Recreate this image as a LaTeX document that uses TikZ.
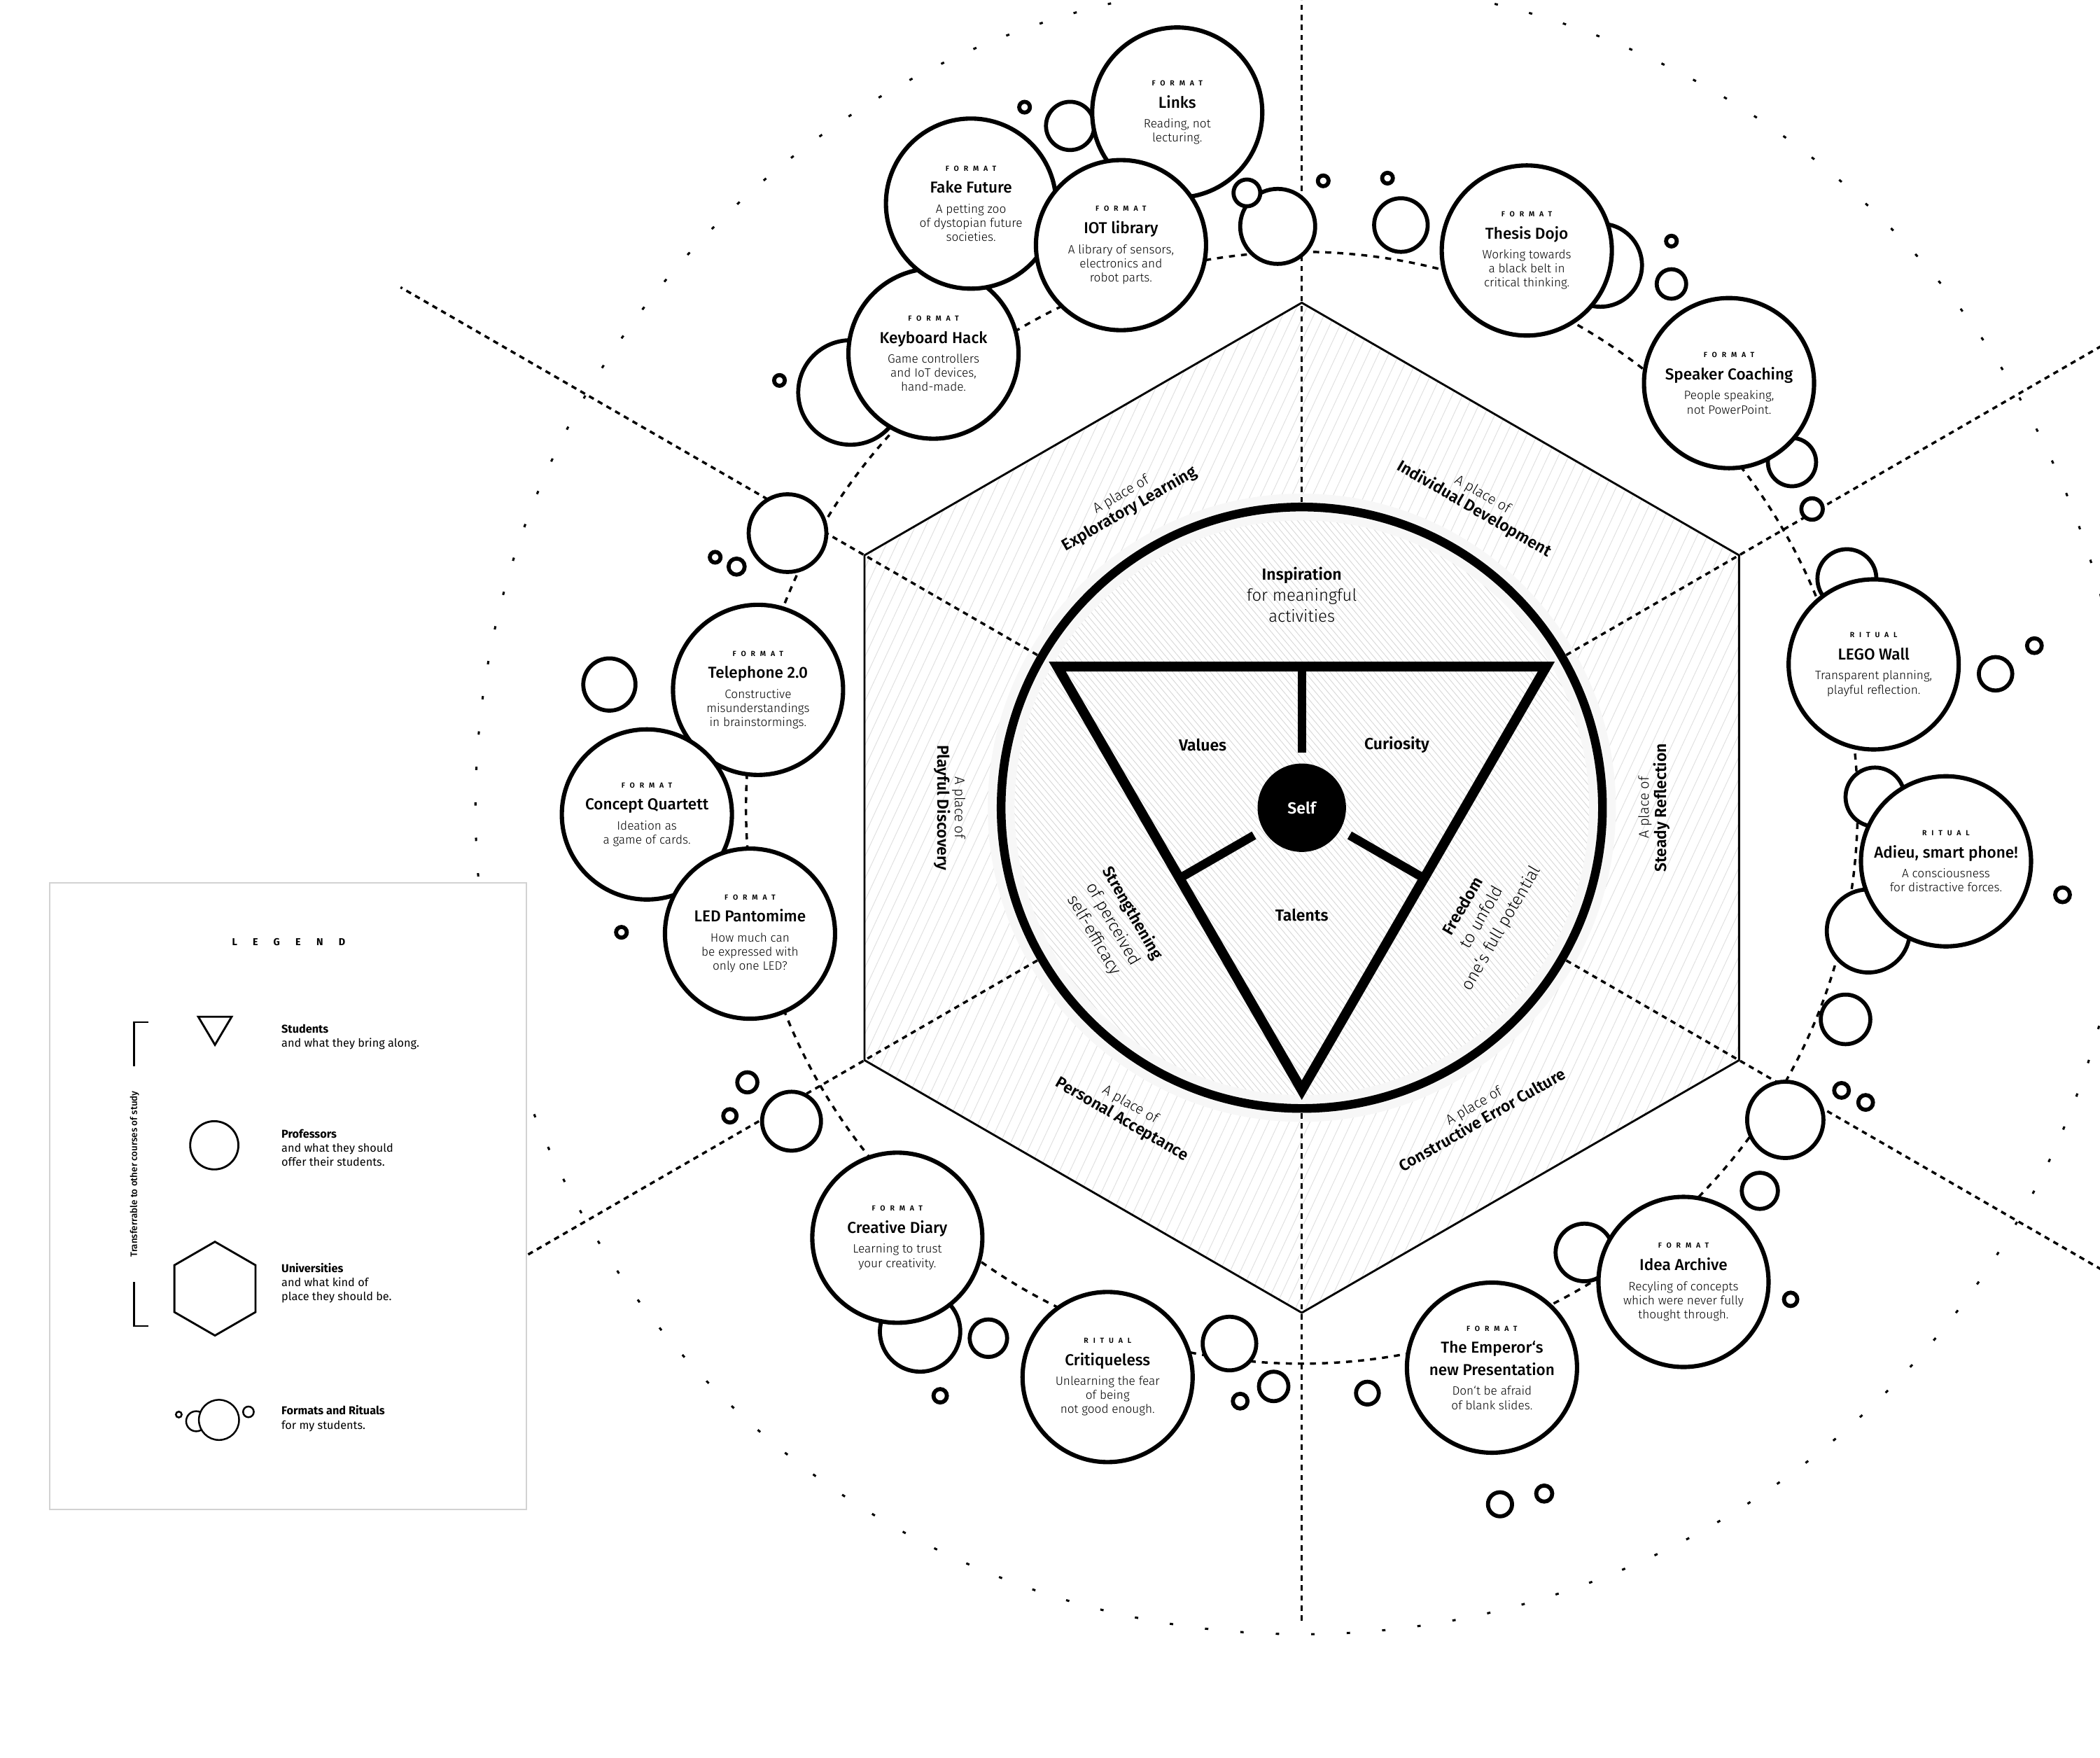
\documentclass[tikz,border=0pt]{standalone}
\usepackage{fontspec}
\setmainfont{Fira Sans}
\newfontfamily\lightfont{Fira Sans Light}
\newfontfamily\mediumfont{Fira Sans Medium}
\newfontfamily\semifont{Fira Sans SemiBold}
\usetikzlibrary{calc,patterns.meta}

\newcommand\kindfont{\fontsize{5.5}{6.5}\selectfont\bfseries\addfontfeatures{LetterSpace=65}}
\newcommand\titlefont{\fontsize{11.8}{14}\selectfont\mediumfont}
\newcommand\descfont{\fontsize{9}{10.5}\selectfont\lightfont}
\newcommand\corebold{\fontsize{12}{16.5}\selectfont\semifont}
\newcommand\corelight{\fontsize{12.5}{16.5}\selectfont\lightfont}
\newcommand\placefont{\fontsize{10.5}{12}\selectfont\lightfont}
\newcommand\placename{\fontsize{12}{14}\selectfont\semifont}
\newcommand\legendfont{\fontsize{8.5}{10.5}\selectfont}

\begin{document}
\begin{tikzpicture}[x=1pt, y=-1pt]
  \tikzstyle{bubble}=[circle, draw, fill=white, line width=3.2pt, inner sep=0pt, minimum size=127pt, align=center, font=\descfont]
  \tikzstyle{orb}=[draw, fill=white, line width=3pt]
  \tikzstyle{radial}=[line width=1.8pt, dash pattern=on 4pt off 3.5pt]
  \tikzstyle{place}=[align=center, font=\placefont]
  \tikzstyle{core}=[align=center, font=\corelight]
  \tikzstyle{legendtext}=[anchor=west, align=left, inner sep=0pt, font=\legendfont]
  \useasboundingbox (0,0) rectangle (1568,1312);
  \coordinate (ctr) at (972,603);

  % orbits
  \draw[line width=1.6pt, dash pattern=on 2.5pt off 24pt] (ctr) circle[radius=617pt];
  \draw[line width=1.8pt, dash pattern=on 4.5pt off 4.5pt] (ctr) circle[radius=415pt];

  % university hexagon
  \foreach \a [count=\i] in {270,330,30,90,150,210}
    \coordinate (h\i) at ($(ctr)+(\a:377)$);
  \fill[pattern={Lines[angle=65,distance=7pt,line width=.5pt]}, pattern color=gray!25]
    (h1) -- (h2) -- (h3) -- (h4) -- (h5) -- (h6) -- cycle;
  \draw[line width=1.5pt] (h1) -- (h2) -- (h3) -- (h4) -- (h5) -- (h6) -- cycle;

  % professor circle
  \fill[white] (ctr) circle[radius=227pt];
  \fill[pattern={Lines[angle=-50,distance=3.6pt,line width=.4pt]}, pattern color=gray!35] (ctr) circle[radius=227pt];
  \draw[gray!6, line width=20pt] (ctr) circle[radius=224.5pt];
  \foreach \a/\e in {270/603,330/700,30/700,90/609,150/700,210/777}
    \draw[radial] ($(ctr)+(\a:228)$) -- ($(ctr)+(\a:\e)$);
  \draw[line width=6.5pt] (ctr) circle[radius=224.5pt];

  % student triangle
  \coordinate (ta) at ($(ctr)+(210:210.8)$);
  \coordinate (tb) at ($(ctr)+(330:210.8)$);
  \coordinate (tc) at ($(ctr)+(90:210.8)$);
  \draw[line width=7.3pt] (ta) -- (tb) -- (tc) -- cycle;
  \node[circle, fill=black, inner sep=0pt, minimum size=66pt, text=white, font=\corebold] (self) at (ctr) {Self};
  \draw[line width=6.5pt, shorten <=8pt] (self) -- ($(ta)!.5!(tb)$);
  \draw[line width=6.5pt, shorten <=8pt] (self) -- ($(tb)!.5!(tc)$);
  \draw[line width=6.5pt, shorten <=8pt] (self) -- ($(tc)!.5!(ta)$);

  \node[font=\corebold] (values) at (898,556) {Values};
  \node[font=\corebold] (curiosity) at (1043,556) {Curiosity};
  \node[font=\corebold] (talents) at (972,683) {Talents};
  \node[core] (inspiration) at (972,444) {{\corebold Inspiration}\\[-1pt] for meaningful\\[-1pt] activities};
  \node[core, rotate=-60] (strength) at (831,690) {{\corebold Strengthening}\\ of perceived\\ self-efficacy};
  \node[core, rotate=60] (freedom) at (1107,685) {{\corebold Freedom}\\ to unfold\\ one‘s full potential};

  % places
  \node[place, rotate=30] (explore) at ($(ctr)+(240:263)$) {A place of\\[1pt] {\placename Exploratory Learning}};
  \node[place, rotate=-30] (individual) at ($(ctr)+(300:263)$) {A place of\\[1pt] {\placename Individual Development}};
  \node[place, rotate=90] (steady) at ($(ctr)+(0:263)$) {A place of\\[1pt] {\placename Steady Reflection}};
  \node[place, rotate=30] (errorculture) at ($(ctr)+(60:263)$) {A place of\\[1pt] {\placename Constructive Error Culture}};
  \node[place, rotate=-30] (acceptance) at ($(ctr)+(120:263)$) {A place of\\[1pt] {\placename Personal Acceptance}};
  \node[place, rotate=-90] (playful) at ($(ctr)+(180:263)$) {A place of\\[1pt] {\placename Playful Discovery}};

  % circles behind the formats
  \foreach \x/\y/\r in {799/94/18, 635/293/39, 1195/198/31, 1338/345/18, 1379/432/22, 1400/595/22, 1395/695/31, 1183/935/21.5, 687/994/30}
    \draw[orb] (\x,\y) circle[radius=\r pt];

  % formats and rituals
  \node[bubble] (links) at (879,84) {{\kindfont FORMAT}\\[6pt] {\titlefont Links}\\[4.5pt] Reading, not\\ lecturing.};
  \node[bubble] (keyboard) at (697,264) {{\kindfont FORMAT}\\[6pt] {\titlefont Keyboard Hack}\\[4.5pt] Game controllers\\ and IoT devices,\\ hand-made.};
  \node[bubble] (fakefuture) at (725,152) {{\kindfont FORMAT}\\[6pt] {\titlefont Fake Future}\\[4.5pt] A petting zoo\\ of dystopian future\\ societies.};
  \node[bubble] (iot) at (837,183) {{\kindfont FORMAT}\\[6pt] {\titlefont IOT library}\\[4.5pt] A library of sensors,\\ electronics and\\ robot parts.};
  \node[bubble] (thesis) at (1140,187) {{\kindfont FORMAT}\\[6pt] {\titlefont Thesis Dojo}\\[4.5pt] Working towards\\ a black belt in\\ critical thinking.};
  \node[bubble] (speaker) at (1291,286) {{\kindfont FORMAT}\\[6pt] {\titlefont Speaker Coaching}\\[4.5pt] People speaking,\\ not PowerPoint.};
  \node[bubble] (telephone) at (566,515) {{\kindfont FORMAT}\\[6pt] {\titlefont Telephone 2.0}\\[4.5pt] Constructive\\ misunderstandings\\ in brainstormings.};
  \node[bubble] (quartett) at (483,608) {{\kindfont FORMAT}\\[6pt] {\titlefont Concept Quartett}\\[4.5pt] Ideation as\\ a game of cards.};
  \node[bubble] (pantomime) at (560,697) {{\kindfont FORMAT}\\[6pt] {\titlefont LED Pantomime}\\[4.5pt] How much can\\ be expressed with\\ only one LED?};
  \node[bubble] (legowall) at (1399,496) {{\kindfont RITUAL}\\[6pt] {\titlefont LEGO Wall}\\[4.5pt] Transparent planning,\\ playful reflection.};
  \node[bubble] (adieu) at (1453,643) {{\kindfont RITUAL}\\[6pt] {\titlefont Adieu, smart phone!}\\[4.5pt] A consciousness\\ for distractive forces.};
  \node[bubble] (archive) at (1257,957) {{\kindfont FORMAT}\\[6pt] {\titlefont Idea Archive}\\[4.5pt] Recyling of concepts\\ which were never fully\\ thought through.};
  \node[bubble] (emperor) at (1114,1021) {{\kindfont FORMAT}\\[6pt] {\titlefont The Emperor‘s}\\[3.5pt] {\titlefont new Presentation}\\[4.5pt] Don‘t be afraid\\ of blank slides.};
  \node[bubble] (critiqueless) at (827,1028) {{\kindfont RITUAL}\\[6pt] {\titlefont Critiqueless}\\[4.5pt] Unlearning the fear\\ of being\\ not good enough.};
  \node[bubble] (diary) at (670,924) {{\kindfont FORMAT}\\[6pt] {\titlefont Creative Diary}\\[4.5pt] Learning to trust\\ your creativity.};

  % loose bubbles
  \foreach \x/\y/\r in {765/80/4, 954/169/28, 931/144/10, 988/135/4, 582/284/4,
      1046/168/20, 1036/133/4, 1248/180/4, 1248/212/11, 1353/380/8,
      588/398/29, 534/416/4, 550/423/6, 455/511/19.5, 464/696/4,
      1490/503/12.5, 1519/482/5.5, 1540/668/5.5, 1378/761/18.5,
      1333/836/28.5, 1375/814/5.5, 1393/823/5.5, 1314/889/13.5, 1337/970/5,
      1021/1040/8.5, 1120/1123/9, 1153/1115/6,
      558/808/7.5, 545/833/5, 591/837/22, 738/999/14, 702/1042/5,
      918/1003/20, 951/1035/11, 926/1046/5.5}
    \draw[orb] (\x,\y) circle[radius=\r pt];

  % legend
  \draw[gray!35, line width=1.2pt, fill=white] (37,659) rectangle (393,1127);
  \node[font=\fontsize{7.5}{9}\selectfont\bfseries\addfontfeatures{LetterSpace=155}] (legend) at (215.5,703) {LEGEND};
  \draw[line width=1.5pt] (148,759) -- (173,759) -- (160.5,780) -- cycle;
  \draw[line width=1.5pt] (160,855) circle[radius=18pt];
  \draw[line width=1.5pt] (160.5,927) -- (190.8,944.5) -- (190.8,979.5) -- (160.5,997) -- (130.2,979.5) -- (130.2,944.5) -- cycle;
  \draw[line width=1.3pt, fill=white] (146.5,1061) circle[radius=7.5pt];
  \draw[line width=1.3pt, fill=white] (163.5,1060) circle[radius=15pt];
  \draw[line width=1.3pt] (133.5,1056) circle[radius=2.2pt];
  \draw[line width=1.3pt] (185.5,1054) circle[radius=4pt];
  \draw[line width=1.3pt] (111,763) -- (100,763) -- (100,796);
  \draw[line width=1.3pt] (100,957) -- (100,990) -- (111,990);
  \node[rotate=90, font=\fontsize{7}{8}\selectfont\mediumfont] (transfer) at (100.5,876.5) {Transferrable to other courses of study};
  \node[legendtext] (students) at (210,774) {{\bfseries Students}\\ and what they bring along.};
  \node[legendtext] (professors) at (210,857) {{\bfseries Professors}\\ and what they should\\ offer their students.};
  \node[legendtext] (universities) at (210,958) {{\bfseries Universities}\\ and what kind of\\ place they should be.};
  \node[legendtext] (formats) at (210,1059) {{\bfseries Formats and Rituals}\\ for my students.};
\end{tikzpicture}
\end{document}
